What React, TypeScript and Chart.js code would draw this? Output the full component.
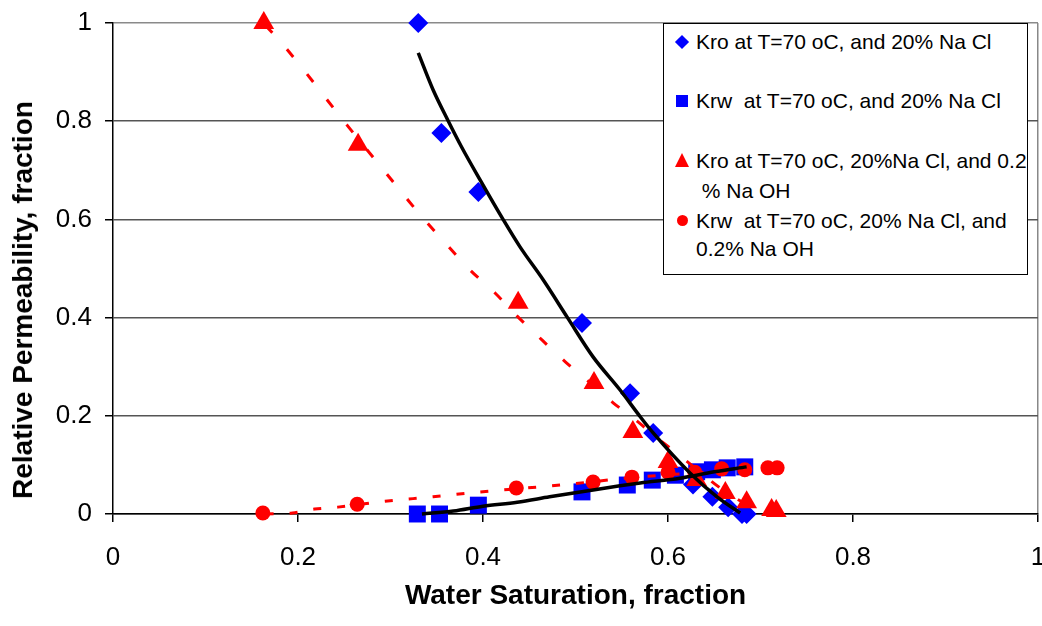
import React, { useEffect, useRef } from "react";
import { Chart, registerables } from "chart.js";

Chart.register(...registerables);

// ---- Data ----
const xTickLabels = ["0", "0.2", "0.4", "0.6", "0.8", "1"];
const yTickLabels = ["0", "0.2", "0.4", "0.6", "0.8", "1"];

const legendLabels = [
  ["Kro at T=70 oC, and 20% Na Cl"],
  ["Krw  at T=70 oC, and 20% Na Cl"],
  ["Kro at T=70 oC, 20%Na Cl, and 0.2", " % Na OH"],
  ["Krw  at T=70 oC, 20% Na Cl, and", "0.2% Na OH"],
];

// Kro, 20% NaCl (blue diamonds)
const kroNaClX = [0.33, 0.355, 0.395, 0.507, 0.559, 0.584, 0.627, 0.648, 0.665, 0.68, 0.685];
const kroNaClY = [1.0, 0.776, 0.656, 0.389, 0.246, 0.165, 0.06, 0.035, 0.014, 0.0, 0.0];

// Krw, 20% NaCl (blue squares)
const krwNaClX = [0.329, 0.353, 0.395, 0.507, 0.556, 0.583, 0.608, 0.631, 0.648, 0.664, 0.683];
const krwNaClY = [0.0, 0.0, 0.018, 0.045, 0.059, 0.069, 0.079, 0.086, 0.09, 0.094, 0.096];

// Kro, 20% NaCl + 0.2% NaOH (red triangles)
const kroNaOHX = [0.163, 0.265, 0.438, 0.52, 0.562, 0.6, 0.631, 0.662, 0.685, 0.712, 0.717];
const kroNaOHY = [1.0, 0.752, 0.43, 0.267, 0.167, 0.106, 0.069, 0.043, 0.024, 0.008, 0.006];

// Krw, 20% NaCl + 0.2% NaOH (red circles)
const krwNaOHX = [0.162, 0.264, 0.436, 0.519, 0.561, 0.6, 0.629, 0.658, 0.683, 0.708, 0.718];
const krwNaOHY = [0.002, 0.02, 0.053, 0.065, 0.075, 0.085, 0.085, 0.092, 0.09, 0.094, 0.094];

// Trend lines
const trendKroNaClX = [0.33, 0.346, 0.362, 0.377, 0.397, 0.422, 0.44, 0.465, 0.491, 0.519, 0.548, 0.57, 0.584, 0.624, 0.653, 0.678];
const trendKroNaClY = [0.939, 0.864, 0.802, 0.747, 0.68, 0.599, 0.544, 0.477, 0.401, 0.32, 0.253, 0.198, 0.165, 0.083, 0.035, 0.002];

const trendKrwNaClX = [0.334, 0.368, 0.4, 0.437, 0.472, 0.519, 0.57, 0.613, 0.65, 0.685];
const trendKrwNaClY = [0.0, 0.006, 0.016, 0.024, 0.035, 0.049, 0.063, 0.073, 0.086, 0.096];

const trendKroNaOHX = [0.165, 0.186, 0.253, 0.294, 0.316, 0.335, 0.361, 0.386, 0.413, 0.438, 0.464, 0.489, 0.516, 0.541, 0.562, 0.591, 0.616, 0.664, 0.692, 0.71];
const trendKroNaOHY = [0.995, 0.951, 0.792, 0.697, 0.646, 0.603, 0.548, 0.497, 0.45, 0.401, 0.354, 0.31, 0.267, 0.226, 0.196, 0.151, 0.114, 0.043, 0.014, 0.004];

const trendKrwNaOHX = [0.165, 0.194, 0.218, 0.243, 0.294, 0.346, 0.397, 0.472, 0.52, 0.56, 0.6, 0.64, 0.68, 0.71];
const trendKrwNaOHY = [0.0, 0.002, 0.01, 0.014, 0.026, 0.035, 0.045, 0.057, 0.066, 0.074, 0.08, 0.085, 0.09, 0.093];

const FONT = "'Liberation Sans', Arial, sans-serif";
const BLUE = "#0000FF";
const RED = "#FF0000";

const pts = (xs: number[], ys: number[]) => xs.map((x, i) => ({ x, y: ys[i] }));

export default function App() {
  const canvasRef = useRef<HTMLCanvasElement | null>(null);

  useEffect(() => {
    document.body.style.margin = "0";
    const ctx = canvasRef.current;
    if (!ctx) return;

    const markerBase = { showLine: false, borderWidth: 0, clip: false as const };
    const lineBase = {
      showLine: true,
      pointRadius: 0,
      pointHoverRadius: 0,
      clip: false as const,
      fill: false,
      cubicInterpolationMode: "monotone" as const,
    };

    const chart = new Chart(ctx, {
      type: "scatter",
      data: {
        datasets: [
          { ...lineBase, label: "trend Kro NaCl", data: pts(trendKroNaClX, trendKroNaClY), borderColor: "#000", borderWidth: 3.5, order: 0 },
          { ...lineBase, label: "trend Krw NaCl", data: pts(trendKrwNaClX, trendKrwNaClY), borderColor: "#000", borderWidth: 3.5, order: 1 },
          { ...lineBase, label: "trend Kro NaOH", data: pts(trendKroNaOHX, trendKroNaOHY), borderColor: RED, borderWidth: 3, borderDash: [10, 22], order: 2 },
          { ...lineBase, label: "trend Krw NaOH", data: pts(trendKrwNaOHX, trendKrwNaOHY), borderColor: RED, borderWidth: 3, borderDash: [8, 16], order: 3 },
          { ...markerBase, label: legendLabels[3].join(" "), data: pts(krwNaOHX, krwNaOHY), pointStyle: "circle", pointRadius: 7.5, backgroundColor: RED, borderColor: RED, order: 4 },
          { ...markerBase, label: legendLabels[2].join(" "), data: pts(kroNaOHX, kroNaOHY), pointStyle: "triangle", pointRadius: 12, backgroundColor: RED, borderColor: RED, order: 5 },
          { ...markerBase, label: legendLabels[1][0], data: pts(krwNaClX, krwNaClY), pointStyle: "rect", pointRadius: 12, backgroundColor: BLUE, borderColor: BLUE, order: 6 },
          { ...markerBase, label: legendLabels[0][0], data: pts(kroNaClX, kroNaClY), pointStyle: "rectRot", pointRadius: 10, backgroundColor: BLUE, borderColor: BLUE, order: 7 },
        ],
      },
      options: {
        responsive: false,
        devicePixelRatio: 1,
        animation: false,
        events: [],
        layout: { autoPadding: false, padding: { top: 23, right: 4, left: 0, bottom: 0 } },
        plugins: {
          legend: { display: false },
          tooltip: { enabled: false },
          title: { display: false },
        },
        scales: {
          x: {
            type: "linear",
            min: 0,
            max: 1,
            afterBuildTicks: (scale: any) => {
              scale.ticks = xTickLabels.map((t) => ({ value: parseFloat(t) }));
            },
            ticks: {
              color: "#000",
              font: { family: FONT, size: 26 },
              padding: 20,
              maxRotation: 0,
              autoSkip: false,
              callback: (_v: any, i: number) => xTickLabels[i],
            },
            grid: {
              display: true,
              drawOnChartArea: true,
              color: (c: any) => (c.tick && c.tick.value === 1 ? "#888" : "rgba(0,0,0,0)"),
              tickColor: "#000",
              tickLength: 8,
              lineWidth: 1.5,
            },
            border: { display: true, color: "#000", width: 1.5 },
            title: {
              display: true,
              text: "Water Saturation, fraction",
              color: "#000",
              font: { family: FONT, size: 28, weight: "bold" },
              padding: { top: 0, bottom: 13 },
            },
            afterFit: (scale: any) => {
              scale.height = 112;
              scale.paddingLeft = 0;
              scale.paddingRight = 0;
            },
          },
          y: {
            type: "linear",
            min: 0,
            max: 1,
            afterBuildTicks: (scale: any) => {
              scale.ticks = yTickLabels.map((t) => ({ value: parseFloat(t) }));
            },
            ticks: {
              color: "#000",
              font: { family: FONT, size: 26 },
              padding: 13,
              autoSkip: false,
              callback: (_v: any, i: number) => yTickLabels[i],
            },
            grid: {
              color: (c: any) => (c.tick && c.tick.value === 1 ? "#8a8a8a" : "#555"),
              tickColor: "#000",
              tickLength: 8,
              lineWidth: 1.5,
            },
            border: { display: true, color: "#000", width: 1.5 },
            title: { display: false },
            afterFit: (scale: any) => {
              scale.width = 113;
              scale.paddingTop = 0;
              scale.paddingBottom = 0;
            },
          },
        },
      },
    });

    return () => {
      chart.destroy();
    };
  }, []);

  const legendLines: { text: string; cy: number; marker?: string }[] = [
    { text: legendLabels[0][0], cy: 41, marker: "diamond" },
    { text: legendLabels[1][0], cy: 100, marker: "square" },
    { text: legendLabels[2][0], cy: 160, marker: "triangle" },
    { text: legendLabels[2][1], cy: 190 },
    { text: legendLabels[3][0], cy: 220, marker: "circle" },
    { text: legendLabels[3][1], cy: 248 },
  ];

  const markerEl = (m?: string) => {
    if (!m) return null;
    const cx = 681 - 663;
    if (m === "diamond")
      return <div style={{ position: "absolute", left: cx - 5, top: -5, width: 10, height: 10, background: BLUE, transform: "rotate(45deg)" }} />;
    if (m === "square")
      return <div style={{ position: "absolute", left: cx - 6, top: -6, width: 12, height: 12, background: BLUE }} />;
    if (m === "triangle")
      return <div style={{ position: "absolute", left: cx - 7.5, top: -8, width: 0, height: 0, borderLeft: "7.5px solid transparent", borderRight: "7.5px solid transparent", borderBottom: `14px solid ${RED}` }} />;
    return <div style={{ position: "absolute", left: cx - 5.5, top: -6, width: 11, height: 11, borderRadius: "50%", background: RED }} />;
  };

  return (
    <div style={{ position: "relative", width: 1042, height: 626, background: "#fff", overflow: "hidden" }}>
      <canvas ref={canvasRef} width={1042} height={626} style={{ display: "block", width: 1042, height: 626 }} />
      <div
        style={{
          position: "absolute",
          left: 23,
          top: 300,
          transform: "translate(-50%, -50%) rotate(-90deg)",
          whiteSpace: "nowrap",
          fontFamily: FONT,
          fontWeight: "bold",
          fontSize: 28,
          lineHeight: "32px",
          color: "#000",
        }}
      >
        Relative Permeability, fraction
      </div>
      <div
        style={{
          position: "absolute",
          left: 663,
          top: 23,
          width: 365,
          height: 252,
          boxSizing: "border-box",
          border: "1px solid #000",
          background: "#fff",
          fontFamily: FONT,
          fontSize: 21,
          color: "#000",
        }}
      >
        {legendLines.map((l, i) => (
          <div key={i} style={{ position: "absolute", left: 0, top: l.cy - 23, width: 363, height: 0 }}>
            {markerEl(l.marker)}
            <div style={{ position: "absolute", left: 695 - 663, top: -13, lineHeight: "26px", whiteSpace: "pre" }}>{l.text}</div>
          </div>
        ))}
      </div>
    </div>
  );
}
